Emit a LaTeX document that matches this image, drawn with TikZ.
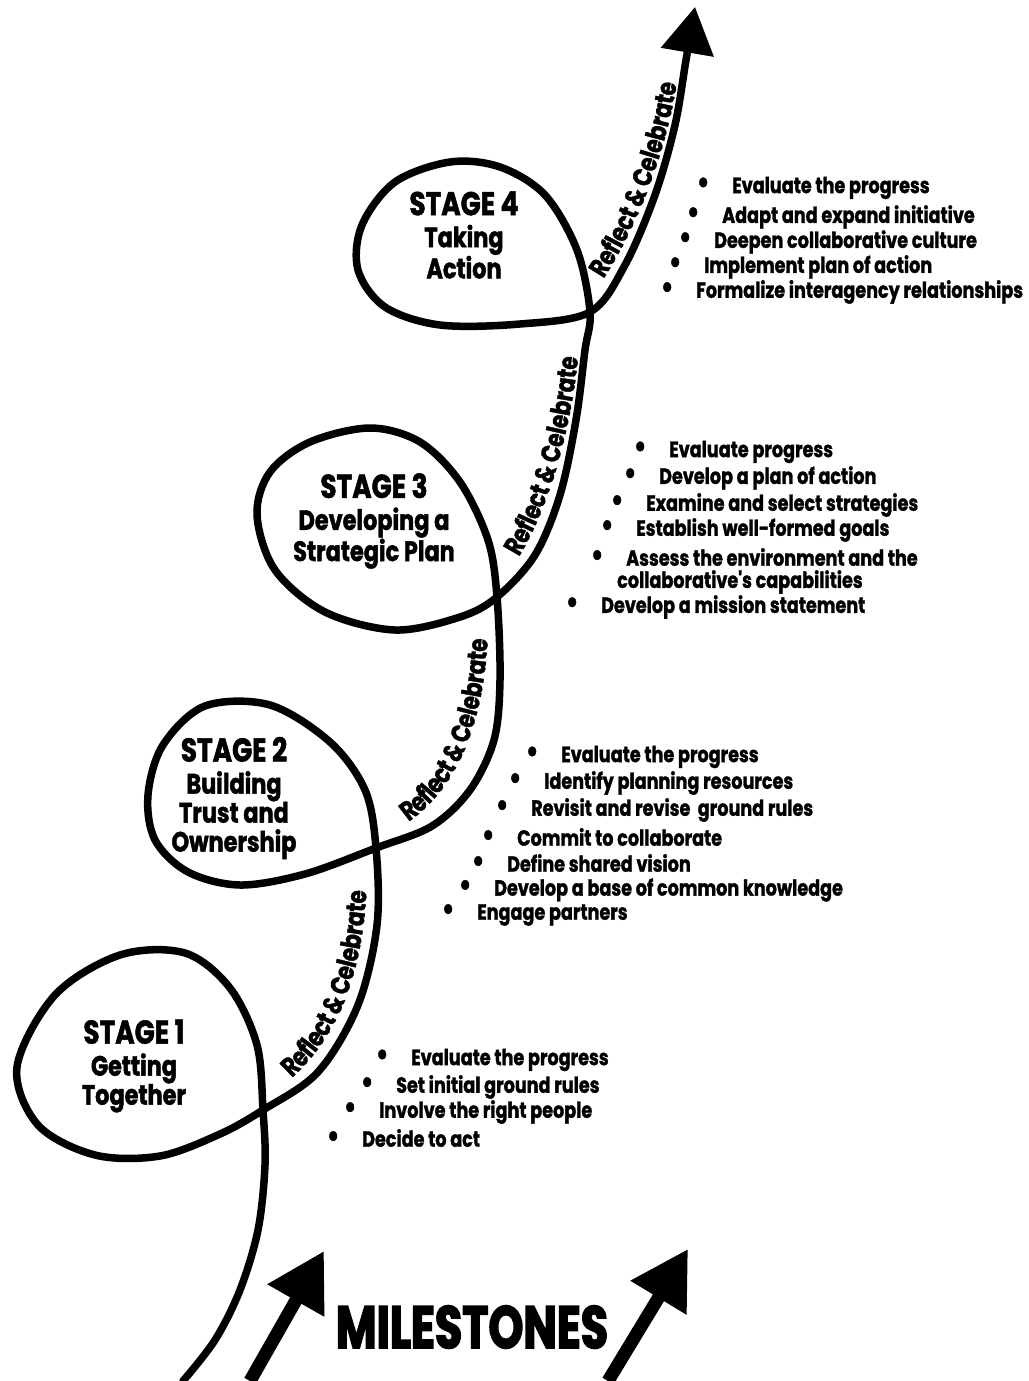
\documentclass[tikz,border=0pt]{standalone}
\usepackage{fontspec}
\newfontfamily\stagefont{Poppins}[FakeStretch=0.8, BoldFeatures={FakeBold=1.6}]
\newfontfamily\listfont{Poppins}[FakeStretch=0.8, BoldFeatures={FakeBold=1.3}]
\newfontfamily\milefont{Poppins}[FakeStretch=0.74, BoldFeatures={FakeBold=2.5}]
\usetikzlibrary{arrows.meta, decorations.text}
\newcommand{\bul}{\makebox[0pt][c]{\fontsize{32}{32}\selectfont\textbullet}\hspace{29pt}}
\newcommand{\headsize}{\fontsize{33}{33}\selectfont}

\begin{document}
\begin{tikzpicture}[x=1pt, y=-1pt,
  every node/.style={inner sep=0pt},
  road/.style={line width=7.5pt, line cap=round, line join=round},
  stage/.style={align=center, font=\stagefont\bfseries\fontsize{28}{29}\selectfont},
  item/.style={anchor=west, font=\listfont\bfseries\fontsize{22}{24}\selectfont},
  reflect/.style={decorate, decoration={text along path, text align=center, raise=8.5pt,
      text={|\listfont\bfseries\fontsize{27}{27}\selectfont|Reflect {\&} Celebrate}}},
  milearrow/.style={line width=13pt, -{Triangle[length=57pt, width=62pt]}},
]
\useasboundingbox (0,0) rectangle (1028,1381);

% crossing points of the road
\coordinate (c1) at (263,1110);
\coordinate (c2) at (376,848);
\coordinate (c3) at (497,597);
\coordinate (c4) at (590,312);

% the road with its four loops
\draw[road, -{Triangle[length=46pt, width=52pt]}] plot[smooth, tension=0.55] coordinates {
  (183,1381) (215,1340) (240,1290) (258,1230) (265,1165) (c1) (257,1045) (230,988)
  (185,953) (120,955) (55,995) (17,1067) (38,1125) (95,1155) (160,1156) (220,1134)
  (c1) (318,1072) (358,1005) (377,925) (c2) (365,790) (330,742) (270,705) (205,706)
  (163,745) (148,795) (155,840) (188,872) (240,885) (305,874) (c2) (432,826) (470,790)
  (494,740) (500,680) (c3) (488,540) (460,482) (420,442) (370,428) (310,442)
  (270,472) (257,515) (275,570) (325,612) (395,630) (460,617) (c3) (535,555)
  (560,495) (576,420) (585,350) (c4) (577,250) (545,195) (500,167) (450,162)
  (395,182) (362,225) (358,270) (385,307) (440,325) (520,324) (c4) (625,265)
  (655,195) (675,125) (686,60) (695,7)};

% labels along the road
\path[reflect] (c1) .. controls (330,1068) and (378,1000) .. (c2);
\path[reflect] (c2) .. controls (440,825) and (500,760) .. (c3);
\path[reflect] (c3) .. controls (545,555) and (585,440) .. (c4);
\path[reflect] (c4) .. controls (640,250) and (680,150) .. (690,50);

% stages
\node[stage] (st1) at (134,1066) {{\headsize STAGE 1}\\[3pt]Getting\\Together};
\node[stage] (st2) at (234,798) {{\headsize STAGE 2}\\[3pt]Building\\Trust and\\Ownership};
\node[stage] (st3) at (374,521) {{\headsize STAGE 3}\\[3pt]Developing a\\Strategic Plan};
\node[stage] (st4) at (464,235) {{\headsize STAGE 4}\\[3pt]Taking\\Action};

% stage 1 steps
\node[item] (s1a) at (382,1060) {\bul Evaluate the progress};
\node[item] (s1b) at (367,1087) {\bul Set initial ground rules};
\node[item] (s1c) at (350,1112) {\bul Involve the right people};
\node[item] (s1d) at (333,1138) {\bul Decide to act};

% stage 2 steps
\node[item] (s2a) at (532,757) {\bul Evaluate the progress};
\node[item] (s2b) at (515,783) {\bul Identify planning resources};
\node[item] (s2c) at (502,810) {\bul Revisit and revise\ \ ground rules};
\node[item] (s2d) at (488,837) {\bul Commit to collaborate};
\node[item] (s2e) at (478,863) {\bul Define shared vision};
\node[item] (s2f) at (465,890) {\bul Develop a base of common knowledge};
\node[item] (s2g) at (448,915) {\bul Engage partners};

% stage 3 steps
\node[item] (s3a) at (640,452) {\bul Evaluate progress};
\node[item] (s3b) at (630,478) {\bul Develop a plan of action};
\node[item] (s3c) at (617,505) {\bul Examine and select strategies};
\node[item] (s3d) at (607,530) {\bul Establish well-formed goals};
\node[item] (s3e) at (597,557) {\bul Assess the environment and the};
\node[item] (s3f) at (617,582) {collaborative's capabilities};
\node[item] (s3g) at (572,607) {\bul Develop a mission statement};

% stage 4 steps
\node[item] (s4a) at (703,188) {\bul Evaluate the progress};
\node[item] (s4b) at (693,217) {\bul Adapt and expand initiative};
\node[item] (s4c) at (685,242) {\bul Deepen collaborative culture};
\node[item] (s4d) at (675,267) {\bul Implement plan of action};
\node[item] (s4e) at (667,292) {\bul Formalize interagency relationships};

% milestones
\draw[milearrow] (250,1381) -- (324,1251);
\draw[milearrow] (608,1381) -- (688,1249);
\node[font=\milefont\bfseries\fontsize{60}{60}\selectfont] (mile) at (472,1327) {MILESTONES};

\end{tikzpicture}
\end{document}
